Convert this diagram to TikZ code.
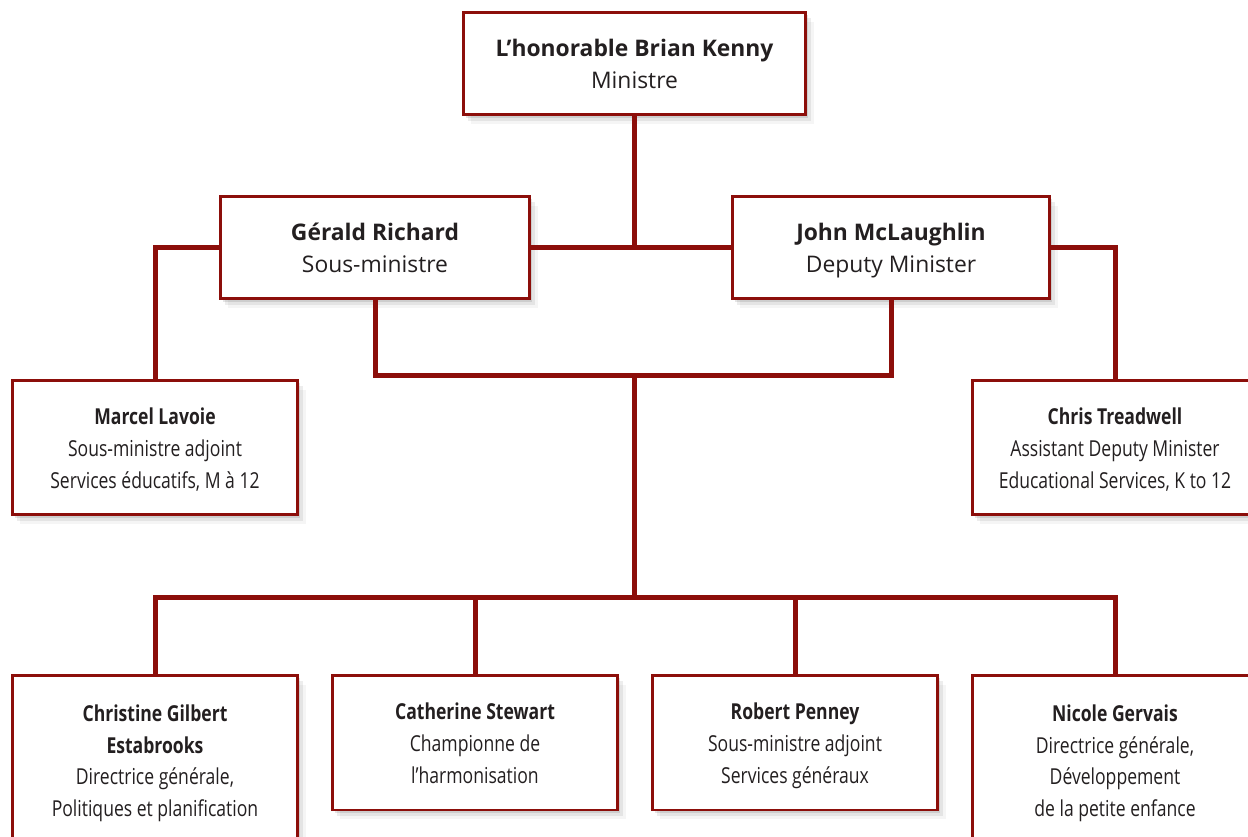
\documentclass[tikz,border=0pt]{standalone}
\usepackage{fontspec}
\setmainfont{Open Sans}
\newfontfamily\narrowfont[FakeStretch=0.8]{Open Sans}
\usetikzlibrary{shadows,positioning}
\definecolor{orgred}{RGB}{140,14,10}
\definecolor{orgtext}{RGB}{35,31,32}
\newcommand{\cardtext}[1]{\raisebox{-1.5pt}[\height][\depth]{\begin{tabular}{@{}c@{}}#1\end{tabular}}}

\begin{document}
\begin{tikzpicture}[
  x=0.02cm, y=-0.02cm,
  link/.style={draw=orgred, line width=0.1cm},
  card/.style={draw=orgred, line width=0.06cm, fill=white, text=orgtext,
    drop shadow={shadow xshift=0.05cm, shadow yshift=-0.06cm, fill=black, opacity=0.10},
    drop shadow={shadow xshift=0.10cm, shadow yshift=-0.12cm, fill=black, opacity=0.07},
    drop shadow={shadow xshift=0.16cm, shadow yshift=-0.19cm, fill=black, opacity=0.04}},
  chief/.style={card, minimum height=2.06cm, font=\fontsize{13pt}{18pt}\selectfont},
  staff/.style={card, minimum width=5.72cm, minimum height=2.7cm, font=\narrowfont\fontsize{12.5pt}{18pt}\selectfont}
]
\useasboundingbox (0,0) rectangle (1248,836);
\clip (0,0) rectangle (1248,836);

\node[chief, minimum width=6.86cm] (minister) at (634.5,63.5) {\cardtext{\textbf{L’honorable Brian Kenny}\\Ministre}};
\node[chief, minimum width=6.2cm] (gerald) at (375,247.5) {\cardtext{\textbf{Gérald Richard}\\Sous-ministre}};
\node[chief, minimum width=6.36cm] (john) at (891,247.5) {\cardtext{\textbf{John McLaughlin}\\Deputy Minister}};

\node[staff] (marcel) at (155,447.5) {\cardtext{\textbf{Marcel Lavoie}\\Sous-ministre adjoint\\Services éducatifs, M à 12}};
\node[staff] (chris) at (1115,447.5) {\cardtext{\textbf{Chris Treadwell}\\Assistant Deputy Minister\\Educational Services, K to 12}};

\node[staff, minimum height=3.4cm] (christine) at (155,760) {\cardtext{\textbf{Christine Gilbert}\\\textbf{Estabrooks}\\Directrice générale,\\Politiques et planification}};
\node[staff] (catherine) at (475,742.5) {\cardtext{\textbf{Catherine Stewart}\\Championne de\\l’harmonisation}};
\node[staff] (robert) at (795,742.5) {\cardtext{\textbf{Robert Penney}\\Sous-ministre adjoint\\Services généraux}};
\node[staff, minimum height=3.4cm] (nicole) at (1115,760) {\cardtext{\textbf{Nicole Gervais}\\Directrice générale,\\Développement\\de la petite enfance}};

\coordinate (hub) at (634.5,375);
\coordinate (bus) at (634.5,597);

% top links
\draw[link] (minister.south) -- (minister.south |- gerald.east);
\draw[link] (gerald.east) -- (john.west);
\draw[link] (gerald.west) -| (marcel.north);
\draw[link] (john.east) -| (chris.north);
\draw[link] (gerald.south) |- (hub) -| (john.south);
\draw[link] (hub) -- (bus);
% bottom row
\draw[link] (christine.north) |- (bus) -| (nicole.north);
\draw[link] (catherine.north) -- (catherine.north |- bus);
\draw[link] (robert.north) -- (robert.north |- bus);
\end{tikzpicture}
\end{document}
